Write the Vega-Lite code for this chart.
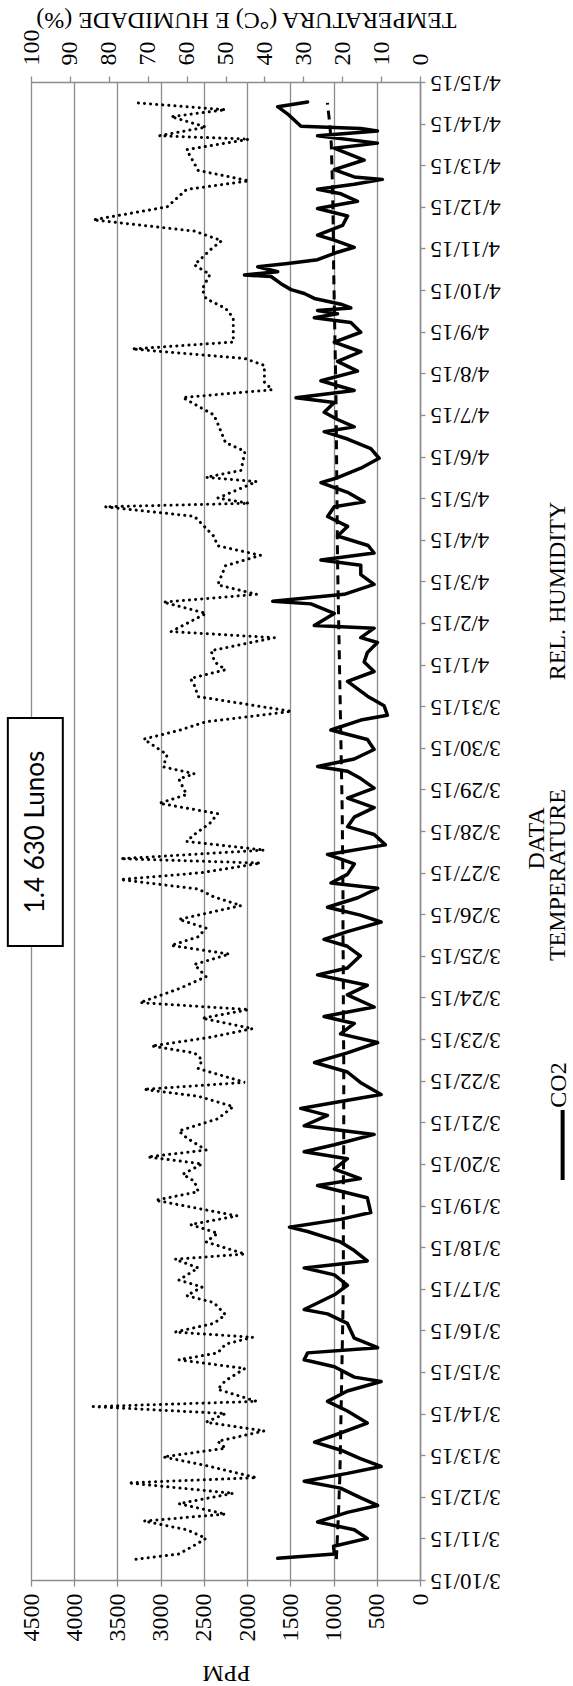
{
  "$schema": "https://vega.github.io/schema/vega-lite/v6.json",
  "width": 389,
  "height": 1498,
  "autosize": {"type": "none"},
  "padding": {"left": 31, "top": 82, "right": 153, "bottom": 106},
  "background": "white",
  "config": {"view": {"stroke": null}, "font": "Liberation Serif"},
  "datasets": {
    "co2": [
      {"date": "2015-03-10T12:30", "ppm": 1646},
      {"date": "2015-03-10T15:00", "ppm": 990},
      {"date": "2015-03-10T19:30", "ppm": 1000},
      {"date": "2015-03-11T00:00", "ppm": 610},
      {"date": "2015-03-11T05:00", "ppm": 760},
      {"date": "2015-03-11T09:30", "ppm": 1185},
      {"date": "2015-03-11T15:00", "ppm": 840},
      {"date": "2015-03-11T19:00", "ppm": 490},
      {"date": "2015-03-11T23:30", "ppm": 690},
      {"date": "2015-03-12T05:00", "ppm": 920},
      {"date": "2015-03-12T09:00", "ppm": 1340},
      {"date": "2015-03-12T13:30", "ppm": 840},
      {"date": "2015-03-12T17:30", "ppm": 450},
      {"date": "2015-03-12T22:00", "ppm": 690},
      {"date": "2015-03-13T03:00", "ppm": 920},
      {"date": "2015-03-13T07:30", "ppm": 1220},
      {"date": "2015-03-13T11:30", "ppm": 990},
      {"date": "2015-03-13T18:30", "ppm": 610},
      {"date": "2015-03-14T01:30", "ppm": 840},
      {"date": "2015-03-14T07:00", "ppm": 1070},
      {"date": "2015-03-14T13:00", "ppm": 840},
      {"date": "2015-03-14T18:30", "ppm": 450},
      {"date": "2015-03-14T21:00", "ppm": 760},
      {"date": "2015-03-15T03:00", "ppm": 990},
      {"date": "2015-03-15T07:00", "ppm": 1340},
      {"date": "2015-03-15T11:00", "ppm": 1300},
      {"date": "2015-03-15T14:00", "ppm": 490},
      {"date": "2015-03-15T19:30", "ppm": 760},
      {"date": "2015-03-16T04:00", "ppm": 840},
      {"date": "2015-03-16T09:30", "ppm": 1070},
      {"date": "2015-03-16T12:00", "ppm": 1340},
      {"date": "2015-03-16T20:30", "ppm": 990},
      {"date": "2015-03-17T02:00", "ppm": 840},
      {"date": "2015-03-17T08:00", "ppm": 990},
      {"date": "2015-03-17T12:00", "ppm": 1340},
      {"date": "2015-03-17T16:00", "ppm": 610},
      {"date": "2015-03-17T22:00", "ppm": 760},
      {"date": "2015-03-18T03:00", "ppm": 920},
      {"date": "2015-03-18T09:00", "ppm": 1300},
      {"date": "2015-03-18T11:30", "ppm": 1510},
      {"date": "2015-03-18T16:00", "ppm": 920},
      {"date": "2015-03-18T20:00", "ppm": 570},
      {"date": "2015-03-19T04:30", "ppm": 610},
      {"date": "2015-03-19T11:30", "ppm": 1185},
      {"date": "2015-03-19T15:30", "ppm": 690},
      {"date": "2015-03-19T21:00", "ppm": 990},
      {"date": "2015-03-20T03:00", "ppm": 840},
      {"date": "2015-03-20T07:00", "ppm": 1340},
      {"date": "2015-03-20T11:00", "ppm": 990},
      {"date": "2015-03-20T17:00", "ppm": 530},
      {"date": "2015-03-20T22:00", "ppm": 1340},
      {"date": "2015-03-21T04:00", "ppm": 1070},
      {"date": "2015-03-21T08:00", "ppm": 1380},
      {"date": "2015-03-21T12:00", "ppm": 920},
      {"date": "2015-03-21T16:00", "ppm": 450},
      {"date": "2015-03-21T23:00", "ppm": 690},
      {"date": "2015-03-22T05:00", "ppm": 840},
      {"date": "2015-03-22T10:30", "ppm": 1220},
      {"date": "2015-03-22T16:00", "ppm": 840},
      {"date": "2015-03-22T22:00", "ppm": 490},
      {"date": "2015-03-23T03:00", "ppm": 920},
      {"date": "2015-03-23T09:00", "ppm": 760},
      {"date": "2015-03-23T13:00", "ppm": 1110},
      {"date": "2015-03-23T18:30", "ppm": 530},
      {"date": "2015-03-24T01:30", "ppm": 840},
      {"date": "2015-03-24T07:00", "ppm": 610},
      {"date": "2015-03-24T13:00", "ppm": 1185},
      {"date": "2015-03-24T17:00", "ppm": 840},
      {"date": "2015-03-25T00:00", "ppm": 690},
      {"date": "2015-03-25T05:30", "ppm": 840},
      {"date": "2015-03-25T09:30", "ppm": 1110},
      {"date": "2015-03-25T14:00", "ppm": 840},
      {"date": "2015-03-25T19:30", "ppm": 450},
      {"date": "2015-03-25T23:30", "ppm": 690},
      {"date": "2015-03-26T04:00", "ppm": 1070},
      {"date": "2015-03-26T09:30", "ppm": 720},
      {"date": "2015-03-26T15:00", "ppm": 490},
      {"date": "2015-03-26T18:00", "ppm": 1030},
      {"date": "2015-03-26T23:00", "ppm": 840},
      {"date": "2015-03-27T05:00", "ppm": 760},
      {"date": "2015-03-27T10:30", "ppm": 1070},
      {"date": "2015-03-27T16:00", "ppm": 400},
      {"date": "2015-03-27T22:00", "ppm": 530},
      {"date": "2015-03-28T02:30", "ppm": 838},
      {"date": "2015-03-28T08:00", "ppm": 761},
      {"date": "2015-03-28T13:30", "ppm": 531},
      {"date": "2015-03-28T19:00", "ppm": 838},
      {"date": "2015-03-29T00:45", "ppm": 531},
      {"date": "2015-03-29T06:15", "ppm": 685},
      {"date": "2015-03-29T10:30", "ppm": 838},
      {"date": "2015-03-29T13:15", "ppm": 1185},
      {"date": "2015-03-29T17:30", "ppm": 761},
      {"date": "2015-03-29T23:00", "ppm": 531},
      {"date": "2015-03-30T04:45", "ppm": 608},
      {"date": "2015-03-30T10:15", "ppm": 1031},
      {"date": "2015-03-30T16:00", "ppm": 685},
      {"date": "2015-03-30T18:45", "ppm": 377},
      {"date": "2015-03-31T00:15", "ppm": 415},
      {"date": "2015-03-31T05:45", "ppm": 608},
      {"date": "2015-03-31T14:15", "ppm": 838},
      {"date": "2015-03-31T20:00", "ppm": 531},
      {"date": "2015-04-01T01:30", "ppm": 646},
      {"date": "2015-04-01T07:00", "ppm": 608},
      {"date": "2015-04-01T12:45", "ppm": 492},
      {"date": "2015-04-01T15:30", "ppm": 685},
      {"date": "2015-04-01T21:00", "ppm": 531},
      {"date": "2015-04-01T22:30", "ppm": 1223},
      {"date": "2015-04-02T05:30", "ppm": 992},
      {"date": "2015-04-02T11:00", "ppm": 1262},
      {"date": "2015-04-02T12:30", "ppm": 1704},
      {"date": "2015-04-02T16:30", "ppm": 877},
      {"date": "2015-04-02T22:15", "ppm": 531},
      {"date": "2015-04-03T03:50", "ppm": 685},
      {"date": "2015-04-03T09:20", "ppm": 685},
      {"date": "2015-04-03T12:15", "ppm": 1146},
      {"date": "2015-04-03T16:20", "ppm": 531},
      {"date": "2015-04-03T20:40", "ppm": 600},
      {"date": "2015-04-04T02:10", "ppm": 954},
      {"date": "2015-04-04T07:40", "ppm": 838},
      {"date": "2015-04-04T13:25", "ppm": 1069},
      {"date": "2015-04-04T19:00", "ppm": 992},
      {"date": "2015-04-04T21:50", "ppm": 646},
      {"date": "2015-04-05T03:20", "ppm": 838},
      {"date": "2015-04-05T08:55", "ppm": 1146},
      {"date": "2015-04-05T11:45", "ppm": 954},
      {"date": "2015-04-05T17:15", "ppm": 685},
      {"date": "2015-04-05T23:00", "ppm": 473},
      {"date": "2015-04-06T04:30", "ppm": 569},
      {"date": "2015-04-06T10:05", "ppm": 838},
      {"date": "2015-04-06T14:20", "ppm": 1108},
      {"date": "2015-04-06T17:05", "ppm": 761},
      {"date": "2015-04-06T21:20", "ppm": 954},
      {"date": "2015-04-07T01:30", "ppm": 1108},
      {"date": "2015-04-07T07:10", "ppm": 992},
      {"date": "2015-04-07T09:50", "ppm": 1435},
      {"date": "2015-04-07T14:05", "ppm": 761},
      {"date": "2015-04-07T19:40", "ppm": 1146},
      {"date": "2015-04-08T01:15", "ppm": 723},
      {"date": "2015-04-08T06:50", "ppm": 954},
      {"date": "2015-04-08T12:25", "ppm": 685},
      {"date": "2015-04-08T18:00", "ppm": 992},
      {"date": "2015-04-08T23:40", "ppm": 685},
      {"date": "2015-04-09T05:15", "ppm": 800},
      {"date": "2015-04-09T08:05", "ppm": 1223},
      {"date": "2015-04-09T10:20", "ppm": 954},
      {"date": "2015-04-09T12:15", "ppm": 1185},
      {"date": "2015-04-09T13:40", "ppm": 800},
      {"date": "2015-04-09T15:50", "ppm": 915},
      {"date": "2015-04-09T19:10", "ppm": 1223},
      {"date": "2015-04-09T22:00", "ppm": 1338},
      {"date": "2015-04-10T00:15", "ppm": 1492},
      {"date": "2015-04-10T03:40", "ppm": 1608},
      {"date": "2015-04-10T07:50", "ppm": 1723},
      {"date": "2015-04-10T08:40", "ppm": 2031},
      {"date": "2015-04-10T10:35", "ppm": 1646},
      {"date": "2015-04-10T13:25", "ppm": 1877},
      {"date": "2015-04-10T15:20", "ppm": 1530},
      {"date": "2015-04-10T17:30", "ppm": 1185},
      {"date": "2015-04-10T21:50", "ppm": 954},
      {"date": "2015-04-11T00:40", "ppm": 761},
      {"date": "2015-04-11T04:50", "ppm": 992},
      {"date": "2015-04-11T07:40", "ppm": 1185},
      {"date": "2015-04-11T13:15", "ppm": 896},
      {"date": "2015-04-11T18:45", "ppm": 838},
      {"date": "2015-04-11T23:00", "ppm": 1185},
      {"date": "2015-04-12T03:10", "ppm": 723},
      {"date": "2015-04-12T07:30", "ppm": 915},
      {"date": "2015-04-12T10:10", "ppm": 1185},
      {"date": "2015-04-12T13:00", "ppm": 761},
      {"date": "2015-04-12T15:50", "ppm": 435},
      {"date": "2015-04-12T17:15", "ppm": 761},
      {"date": "2015-04-12T21:25", "ppm": 992},
      {"date": "2015-04-13T03:00", "ppm": 646},
      {"date": "2015-04-13T09:50", "ppm": 992},
      {"date": "2015-04-13T12:45", "ppm": 492},
      {"date": "2015-04-13T17:00", "ppm": 1185},
      {"date": "2015-04-13T19:45", "ppm": 492},
      {"date": "2015-04-13T21:10", "ppm": 685},
      {"date": "2015-04-13T22:30", "ppm": 1377},
      {"date": "2015-04-14T05:30", "ppm": 1530},
      {"date": "2015-04-14T09:45", "ppm": 1646},
      {"date": "2015-04-14T12:30", "ppm": 1300}
    ],
    "temp": [
      {"date": "2015-03-10T12:00", "t": 21.5},
      {"date": "2015-03-11T12:00", "t": 21.0},
      {"date": "2015-03-12T12:00", "t": 20.6},
      {"date": "2015-03-13T12:00", "t": 20.4},
      {"date": "2015-03-14T12:00", "t": 20.2},
      {"date": "2015-03-15T12:00", "t": 20.0},
      {"date": "2015-03-16T12:00", "t": 19.8},
      {"date": "2015-03-17T12:00", "t": 19.7},
      {"date": "2015-03-18T12:00", "t": 19.7},
      {"date": "2015-03-19T12:00", "t": 19.7},
      {"date": "2015-03-20T12:00", "t": 19.6},
      {"date": "2015-03-21T12:00", "t": 19.6},
      {"date": "2015-03-22T12:00", "t": 19.6},
      {"date": "2015-03-23T12:00", "t": 19.7},
      {"date": "2015-03-24T12:00", "t": 19.7},
      {"date": "2015-03-25T12:00", "t": 19.8},
      {"date": "2015-03-26T12:00", "t": 19.8},
      {"date": "2015-03-27T12:00", "t": 19.9},
      {"date": "2015-03-28T12:00", "t": 20.0},
      {"date": "2015-03-29T12:00", "t": 20.2},
      {"date": "2015-03-30T12:00", "t": 20.4},
      {"date": "2015-03-31T12:00", "t": 20.6},
      {"date": "2015-04-01T12:00", "t": 20.8},
      {"date": "2015-04-02T12:00", "t": 21.0},
      {"date": "2015-04-03T12:00", "t": 21.2},
      {"date": "2015-04-04T12:00", "t": 21.3},
      {"date": "2015-04-05T12:00", "t": 21.4},
      {"date": "2015-04-06T12:00", "t": 21.5},
      {"date": "2015-04-07T12:00", "t": 21.6},
      {"date": "2015-04-08T12:00", "t": 21.8},
      {"date": "2015-04-09T12:00", "t": 22.0},
      {"date": "2015-04-10T12:00", "t": 22.2},
      {"date": "2015-04-11T12:00", "t": 22.3},
      {"date": "2015-04-12T12:00", "t": 22.5},
      {"date": "2015-04-13T12:00", "t": 22.8},
      {"date": "2015-04-14T00:00", "t": 23.2},
      {"date": "2015-04-14T12:00", "t": 23.8}
    ],
    "hum": [
      {"date": "2015-03-10T12:00", "h": 73},
      {"date": "2015-03-10T15:00", "h": 62},
      {"date": "2015-03-10T20:00", "h": 58},
      {"date": "2015-03-11T00:00", "h": 55},
      {"date": "2015-03-11T05:00", "h": 60},
      {"date": "2015-03-11T10:00", "h": 71},
      {"date": "2015-03-11T14:00", "h": 50},
      {"date": "2015-03-11T20:00", "h": 62},
      {"date": "2015-03-12T02:00", "h": 48},
      {"date": "2015-03-12T08:00", "h": 75},
      {"date": "2015-03-12T11:00", "h": 42},
      {"date": "2015-03-12T18:00", "h": 55},
      {"date": "2015-03-12T23:00", "h": 66},
      {"date": "2015-03-13T04:00", "h": 50},
      {"date": "2015-03-13T08:00", "h": 52},
      {"date": "2015-03-13T14:00", "h": 40},
      {"date": "2015-03-13T19:00", "h": 55},
      {"date": "2015-03-14T00:00", "h": 50},
      {"date": "2015-03-14T04:00", "h": 84},
      {"date": "2015-03-14T07:00", "h": 42},
      {"date": "2015-03-14T14:00", "h": 52},
      {"date": "2015-03-14T19:00", "h": 50},
      {"date": "2015-03-15T02:00", "h": 45},
      {"date": "2015-03-15T07:00", "h": 62},
      {"date": "2015-03-15T11:00", "h": 52},
      {"date": "2015-03-15T16:00", "h": 50},
      {"date": "2015-03-15T20:00", "h": 43},
      {"date": "2015-03-15T23:00", "h": 63},
      {"date": "2015-03-16T04:00", "h": 53},
      {"date": "2015-03-16T09:00", "h": 50},
      {"date": "2015-03-16T16:00", "h": 53},
      {"date": "2015-03-16T20:00", "h": 60},
      {"date": "2015-03-17T01:00", "h": 56},
      {"date": "2015-03-17T05:00", "h": 62},
      {"date": "2015-03-17T12:00", "h": 57},
      {"date": "2015-03-17T17:00", "h": 63},
      {"date": "2015-03-17T20:00", "h": 45},
      {"date": "2015-03-18T03:00", "h": 55},
      {"date": "2015-03-18T08:00", "h": 52},
      {"date": "2015-03-18T13:00", "h": 59},
      {"date": "2015-03-18T18:00", "h": 47},
      {"date": "2015-03-19T03:00", "h": 68},
      {"date": "2015-03-19T08:00", "h": 57},
      {"date": "2015-03-19T14:00", "h": 58},
      {"date": "2015-03-19T18:00", "h": 61},
      {"date": "2015-03-20T00:00", "h": 56},
      {"date": "2015-03-20T04:00", "h": 70},
      {"date": "2015-03-20T08:00", "h": 55},
      {"date": "2015-03-20T15:00", "h": 60},
      {"date": "2015-03-20T19:00", "h": 62},
      {"date": "2015-03-21T02:00", "h": 52},
      {"date": "2015-03-21T09:00", "h": 48},
      {"date": "2015-03-21T15:00", "h": 57},
      {"date": "2015-03-21T19:00", "h": 71},
      {"date": "2015-03-21T23:00", "h": 45},
      {"date": "2015-03-22T07:00", "h": 57},
      {"date": "2015-03-22T12:00", "h": 56},
      {"date": "2015-03-22T16:00", "h": 58},
      {"date": "2015-03-22T20:00", "h": 69},
      {"date": "2015-03-23T01:00", "h": 54},
      {"date": "2015-03-23T06:00", "h": 43},
      {"date": "2015-03-23T12:00", "h": 56},
      {"date": "2015-03-23T17:00", "h": 44},
      {"date": "2015-03-23T21:00", "h": 72},
      {"date": "2015-03-24T05:00", "h": 62},
      {"date": "2015-03-24T12:00", "h": 55},
      {"date": "2015-03-24T19:00", "h": 58},
      {"date": "2015-03-25T01:00", "h": 49},
      {"date": "2015-03-25T06:00", "h": 64},
      {"date": "2015-03-25T11:00", "h": 57},
      {"date": "2015-03-25T16:00", "h": 55},
      {"date": "2015-03-25T21:00", "h": 62},
      {"date": "2015-03-26T05:00", "h": 46},
      {"date": "2015-03-26T10:00", "h": 53},
      {"date": "2015-03-26T14:30", "h": 57},
      {"date": "2015-03-26T20:00", "h": 77},
      {"date": "2015-03-27T00:00", "h": 56},
      {"date": "2015-03-27T05:30", "h": 41},
      {"date": "2015-03-27T08:00", "h": 77},
      {"date": "2015-03-27T13:00", "h": 40},
      {"date": "2015-03-27T18:00", "h": 60},
      {"date": "2015-03-27T22:00", "h": 58},
      {"date": "2015-03-28T04:30", "h": 54},
      {"date": "2015-03-28T10:00", "h": 52},
      {"date": "2015-03-28T16:00", "h": 67},
      {"date": "2015-03-28T21:00", "h": 60},
      {"date": "2015-03-29T06:00", "h": 62},
      {"date": "2015-03-29T09:00", "h": 58},
      {"date": "2015-03-29T13:00", "h": 66},
      {"date": "2015-03-29T20:00", "h": 65},
      {"date": "2015-03-30T05:00", "h": 71},
      {"date": "2015-03-30T10:00", "h": 62},
      {"date": "2015-03-30T15:00", "h": 55},
      {"date": "2015-03-30T21:00", "h": 33},
      {"date": "2015-03-31T05:30", "h": 57},
      {"date": "2015-03-31T12:00", "h": 58},
      {"date": "2015-03-31T16:00", "h": 59},
      {"date": "2015-03-31T21:00", "h": 50},
      {"date": "2015-04-01T01:30", "h": 52.8},
      {"date": "2015-04-01T08:00", "h": 53.7},
      {"date": "2015-04-01T15:30", "h": 37.4},
      {"date": "2015-04-01T19:00", "h": 64},
      {"date": "2015-04-02T05:30", "h": 55},
      {"date": "2015-04-02T12:00", "h": 66},
      {"date": "2015-04-02T16:30", "h": 42},
      {"date": "2015-04-02T22:00", "h": 52},
      {"date": "2015-04-03T09:00", "h": 50},
      {"date": "2015-04-03T15:00", "h": 41},
      {"date": "2015-04-03T20:30", "h": 52},
      {"date": "2015-04-04T02:00", "h": 53},
      {"date": "2015-04-04T13:30", "h": 58},
      {"date": "2015-04-04T19:00", "h": 81},
      {"date": "2015-04-04T21:00", "h": 44},
      {"date": "2015-04-05T00:00", "h": 52},
      {"date": "2015-04-05T09:30", "h": 42},
      {"date": "2015-04-05T12:00", "h": 55},
      {"date": "2015-04-05T16:00", "h": 46},
      {"date": "2015-04-06T03:00", "h": 45},
      {"date": "2015-04-06T08:00", "h": 50},
      {"date": "2015-04-06T19:00", "h": 52},
      {"date": "2015-04-07T00:00", "h": 53},
      {"date": "2015-04-07T10:00", "h": 61},
      {"date": "2015-04-07T14:30", "h": 38},
      {"date": "2015-04-07T19:00", "h": 40},
      {"date": "2015-04-08T04:30", "h": 40},
      {"date": "2015-04-08T08:30", "h": 45},
      {"date": "2015-04-08T14:00", "h": 74},
      {"date": "2015-04-08T18:00", "h": 48},
      {"date": "2015-04-09T08:00", "h": 48},
      {"date": "2015-04-09T13:30", "h": 50},
      {"date": "2015-04-09T19:00", "h": 55},
      {"date": "2015-04-10T00:30", "h": 56},
      {"date": "2015-04-10T09:00", "h": 54},
      {"date": "2015-04-10T14:30", "h": 58},
      {"date": "2015-04-10T23:00", "h": 54},
      {"date": "2015-04-11T04:30", "h": 51},
      {"date": "2015-04-11T10:00", "h": 58},
      {"date": "2015-04-11T16:30", "h": 84},
      {"date": "2015-04-12T00:00", "h": 65},
      {"date": "2015-04-12T10:00", "h": 60},
      {"date": "2015-04-12T15:00", "h": 44},
      {"date": "2015-04-12T21:00", "h": 57},
      {"date": "2015-04-13T09:00", "h": 60},
      {"date": "2015-04-13T15:00", "h": 44},
      {"date": "2015-04-13T17:00", "h": 67},
      {"date": "2015-04-13T22:00", "h": 55},
      {"date": "2015-04-14T04:00", "h": 64},
      {"date": "2015-04-14T08:00", "h": 50},
      {"date": "2015-04-14T12:00", "h": 73}
    ]
  },
  "layer": [
    {
      "data": {"name": "co2"},
      "mark": {"type": "line", "color": "black", "strokeWidth": 3.5, "strokeJoin": "round", "strokeCap": "round"},
      "encoding": {
        "x": {
          "field": "ppm", "type": "quantitative",
          "scale": {"domain": [0, 4500], "reverse": true, "nice": false, "zero": false},
          "axis": {
            "orient": "bottom", "values": [0, 500, 1000, 1500, 2000, 2500, 3000, 3500, 4000, 4500], "format": "d",
            "grid": true, "gridColor": "#8c8c8c", "gridWidth": 1.3, "gridOpacity": 1,
            "domainColor": "#8c8c8c", "domainWidth": 1.5, "tickColor": "#8c8c8c", "tickSize": 6, "tickWidth": 1.3,
            "labelAngle": 270, "labelAlign": "right", "labelBaseline": "middle", "labelPadding": 7,
            "labelFont": "Liberation Serif", "labelFontSize": 24, "labelColor": "black",
            "labelFlush": false, "labelOverlap": false,
            "title": "PPM", "titleAngle": 180, "titleFont": "Liberation Serif", "titleFontSize": 24,
            "titleFontWeight": "normal", "titleColor": "black", "titleX": 195, "titleY": 92,
            "titleAlign": "center", "titleBaseline": "middle"
          }
        },
        "y": {
          "field": "date", "type": "temporal",
          "scale": {"domain": [{"year": 2015, "month": 3, "date": 10}, {"year": 2015, "month": 4, "date": 15}]},
          "axis": {
            "orient": "right", "format": "%-m/%-d/%y",
            "values": [
              {"year": 2015, "month": 3, "date": 10}, {"year": 2015, "month": 3, "date": 11}, {"year": 2015, "month": 3, "date": 12},
              {"year": 2015, "month": 3, "date": 13}, {"year": 2015, "month": 3, "date": 14}, {"year": 2015, "month": 3, "date": 15},
              {"year": 2015, "month": 3, "date": 16}, {"year": 2015, "month": 3, "date": 17}, {"year": 2015, "month": 3, "date": 18},
              {"year": 2015, "month": 3, "date": 19}, {"year": 2015, "month": 3, "date": 20}, {"year": 2015, "month": 3, "date": 21},
              {"year": 2015, "month": 3, "date": 22}, {"year": 2015, "month": 3, "date": 23}, {"year": 2015, "month": 3, "date": 24},
              {"year": 2015, "month": 3, "date": 25}, {"year": 2015, "month": 3, "date": 26}, {"year": 2015, "month": 3, "date": 27},
              {"year": 2015, "month": 3, "date": 28}, {"year": 2015, "month": 3, "date": 29}, {"year": 2015, "month": 3, "date": 30},
              {"year": 2015, "month": 3, "date": 31}, {"year": 2015, "month": 4, "date": 1}, {"year": 2015, "month": 4, "date": 2},
              {"year": 2015, "month": 4, "date": 3}, {"year": 2015, "month": 4, "date": 4}, {"year": 2015, "month": 4, "date": 5},
              {"year": 2015, "month": 4, "date": 6}, {"year": 2015, "month": 4, "date": 7}, {"year": 2015, "month": 4, "date": 8},
              {"year": 2015, "month": 4, "date": 9}, {"year": 2015, "month": 4, "date": 10}, {"year": 2015, "month": 4, "date": 11},
              {"year": 2015, "month": 4, "date": 12}, {"year": 2015, "month": 4, "date": 13}, {"year": 2015, "month": 4, "date": 14},
              {"year": 2015, "month": 4, "date": 15}
            ],
            "grid": false, "domainColor": "#8c8c8c", "domainWidth": 1.5, "tickColor": "#8c8c8c", "tickSize": 5, "tickWidth": 1.3,
            "labelAngle": 180, "labelAlign": "right", "labelBaseline": "middle", "labelPadding": 5,
            "labelFont": "Liberation Serif", "labelFontSize": 23, "labelColor": "black",
            "labelFlush": false, "labelOverlap": false,
            "title": "DATA", "titleAngle": 270, "titleFont": "Liberation Serif", "titleFontSize": 24,
            "titleFontWeight": "normal", "titleColor": "black", "titleX": 116, "titleY": 756,
            "titleAlign": "center", "titleBaseline": "middle"
          }
        },
        "order": {"field": "date", "type": "temporal"}
      }
    },
    {
      "data": {"name": "temp"},
      "mark": {"type": "line", "color": "black", "strokeWidth": 3, "strokeDash": [9, 6]},
      "encoding": {
        "x": {
          "field": "t", "type": "quantitative",
          "scale": {"domain": [0, 100], "reverse": true, "nice": false, "zero": false},
          "axis": {
            "orient": "top", "values": [0, 10, 20, 30, 40, 50, 60, 70, 80, 90, 100],
            "grid": false, "domainColor": "#8c8c8c", "domainWidth": 1.5, "tickColor": "#8c8c8c", "tickSize": 6, "tickWidth": 1.3,
            "labelAngle": 270, "labelAlign": "left", "labelBaseline": "middle", "labelPadding": 11,
            "labelFont": "Liberation Serif", "labelFontSize": 24, "labelColor": "black",
            "labelFlush": false, "labelOverlap": false,
            "title": "TEMPERATURA (°C) E HUMIDADE (%)", "titleAngle": 180, "titleFont": "Liberation Serif", "titleFontSize": 24,
            "titleFontWeight": "normal", "titleColor": "black", "titleX": 215, "titleY": -63,
            "titleAlign": "center", "titleBaseline": "middle"
          }
        },
        "y": {"field": "date", "type": "temporal"},
        "order": {"field": "date", "type": "temporal"}
      }
    },
    {
      "data": {"name": "hum"},
      "mark": {"type": "line", "color": "black", "strokeWidth": 3, "strokeDash": [0.1, 6], "strokeCap": "round"},
      "encoding": {
        "x": {"field": "h", "type": "quantitative", "scale": {"domain": [0, 100], "reverse": true, "nice": false, "zero": false}, "axis": null},
        "y": {"field": "date", "type": "temporal"},
        "order": {"field": "date", "type": "temporal"}
      }
    },
    {
      "data": {"values": [{}]},
      "mark": {"type": "rect", "fill": "white", "stroke": "black", "strokeWidth": 2},
      "encoding": {
        "x": {"datum": 4768, "type": "quantitative", "scale": {"domain": [0, 4500], "reverse": true, "nice": false, "zero": false}, "axis": null},
        "x2": {"datum": 4132},
        "y": {"datum": {"year": 2015, "month": 3, "date": 30, "hours": 17, "minutes": 11}, "type": "temporal"},
        "y2": {"datum": {"year": 2015, "month": 3, "date": 25, "hours": 5, "minutes": 41}}
      }
    },
    {
      "data": {"values": [{}]},
      "mark": {"type": "text", "angle": 270, "font": "Lato", "fontSize": 26, "align": "center", "baseline": "middle", "color": "black"},
      "encoding": {
        "x": {"datum": 4444, "type": "quantitative", "scale": {"domain": [0, 4500], "reverse": true, "nice": false, "zero": false}, "axis": null},
        "y": {"datum": {"year": 2015, "month": 3, "date": 27, "hours": 23, "minutes": 25}, "type": "temporal"},
        "text": {"value": "1.4 630 Lunos"}
      }
    },
    {
      "data": {"values": [{}]},
      "mark": {"type": "text", "angle": 270, "font": "Liberation Serif", "fontSize": 24, "align": "center", "baseline": "middle", "color": "black"},
      "encoding": {
        "x": {"datum": -1610, "type": "quantitative", "scale": {"domain": [0, 4500], "reverse": true, "nice": false, "zero": false}, "axis": null},
        "y": {"datum": {"year": 2015, "month": 3, "date": 21, "hours": 21, "minutes": 30}, "type": "temporal"},
        "text": {"value": "CO2"}
      }
    },
    {
      "data": {"values": [{}]},
      "mark": {"type": "rule", "color": "black", "strokeWidth": 4},
      "encoding": {
        "x": {"datum": -1650, "type": "quantitative", "scale": {"domain": [0, 4500], "reverse": true, "nice": false, "zero": false}, "axis": null},
        "y": {"datum": {"year": 2015, "month": 3, "date": 21, "hours": 7, "minutes": 5}, "type": "temporal"},
        "y2": {"datum": {"year": 2015, "month": 3, "date": 19, "hours": 14, "minutes": 43}}
      }
    },
    {
      "data": {"values": [{}]},
      "mark": {"type": "text", "angle": 270, "font": "Liberation Serif", "fontSize": 24, "align": "center", "baseline": "middle", "color": "black"},
      "encoding": {
        "x": {"datum": -1600, "type": "quantitative", "scale": {"domain": [0, 4500], "reverse": true, "nice": false, "zero": false}, "axis": null},
        "y": {"datum": {"year": 2015, "month": 3, "date": 26, "hours": 22, "minutes": 35}, "type": "temporal"},
        "text": {"value": "TEMPERATURE"}
      }
    },
    {
      "data": {"values": [{}]},
      "mark": {"type": "text", "angle": 270, "font": "Liberation Serif", "fontSize": 24, "align": "center", "baseline": "middle", "color": "black"},
      "encoding": {
        "x": {"datum": -1600, "type": "quantitative", "scale": {"domain": [0, 4500], "reverse": true, "nice": false, "zero": false}, "axis": null},
        "y": {"datum": {"year": 2015, "month": 4, "date": 2, "hours": 18, "minutes": 26}, "type": "temporal"},
        "text": {"value": "REL. HUMIDITY"}
      }
    }
  ],
  "resolve": {"scale": {"x": "independent"}, "axis": {"x": "independent"}}
}
